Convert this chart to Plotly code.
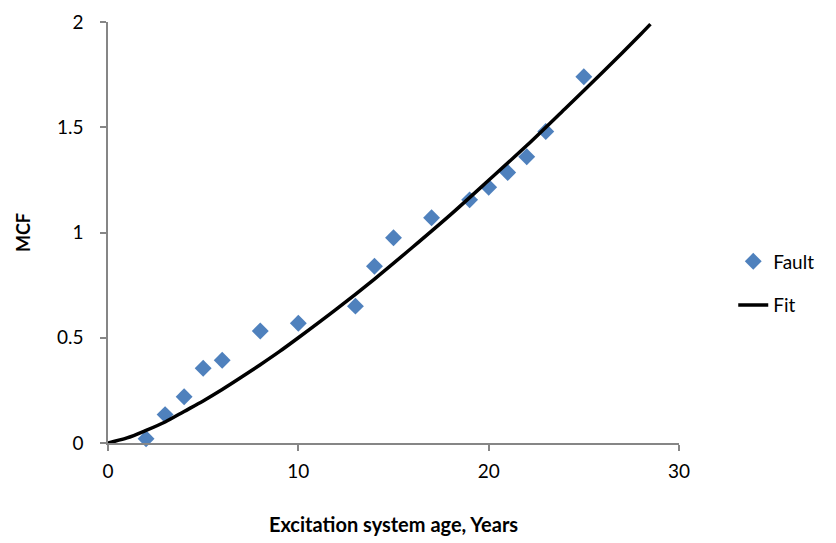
import plotly.graph_objects as go

# Observed MCF data (Fault)
fault_age = [2, 3, 4, 5, 6, 8, 10, 13, 14, 15, 17, 19, 20, 21, 22, 23, 25]
fault_mcf = [0.02, 0.135, 0.22, 0.355, 0.393, 0.532, 0.569, 0.65, 0.84, 0.975,
             1.07, 1.155, 1.215, 1.285, 1.36, 1.48, 1.74]

# Fit curve
fit_age = [0, 1, 2, 3, 4, 5, 6, 7, 8, 9, 10, 12, 14, 16, 18, 20, 22, 24, 26, 28, 28.5]
fit_mcf = [0.0, 0.024, 0.06, 0.10, 0.15, 0.20, 0.254, 0.312, 0.372, 0.434, 0.50,
           0.636, 0.779, 0.93, 1.085, 1.248, 1.413, 1.587, 1.762, 1.943, 1.99]

x_ticks = [0, 10, 20, 30]
y_ticks = [0, 0.5, 1, 1.5, 2]
y_tick_text = ["0", "0.5", "1", "1.5", "2"]

FONT = "Lato, Open Sans, sans-serif"

fig = go.Figure()
fig.add_trace(go.Scatter(
    x=fault_age, y=fault_mcf, mode="markers", name="Fault",
    marker=dict(symbol="diamond", size=13, color="#4F81BD"),
    legendgroup="a", cliponaxis=False,
))
fig.add_trace(go.Scatter(
    x=fit_age, y=fit_mcf, mode="lines", name="Fit",
    line=dict(color="black", width=3.5, shape="spline", smoothing=0.8),
    legendgroup="b", cliponaxis=False,
))

tick_font = dict(family=FONT, size=19, color="#000000")
fig.update_layout(
    width=836, height=543,
    margin=dict(l=108, r=157, t=22, b=100),
    paper_bgcolor="white", plot_bgcolor="white",
    font=tick_font,
    showlegend=True,
    legend=dict(x=1.095, y=0.379, yanchor="middle", xanchor="left",
                font=dict(family=FONT, size=19, color="#000"),
                tracegroupgap=16, traceorder="grouped"),
    xaxis=dict(range=[0, 30], tickvals=x_ticks, showgrid=False, zeroline=False,
               showline=True, linecolor="#868686", linewidth=1.5,
               ticks="outside", ticklen=6, tickcolor="#868686", tickwidth=1.5,
               tickfont=tick_font, ticklabelstandoff=4, automargin=False,
               title=dict(text="<b>Excitation system age, Years</b>", standoff=37,
                          font=dict(family=FONT, size=20, color="#000"))),
    yaxis=dict(range=[0, 2], tickvals=y_ticks, ticktext=y_tick_text, showgrid=False,
               zeroline=False, showline=True, linecolor="#868686", linewidth=1.5,
               ticks="outside", ticklen=6, tickcolor="#868686", tickwidth=1.5,
               tickfont=tick_font, ticklabelstandoff=13, automargin=False,
               title=dict(text="<b>MCF</b>", standoff=22,
                          font=dict(family=FONT, size=18, color="#000"))),
)

fig.write_html("out.html")
